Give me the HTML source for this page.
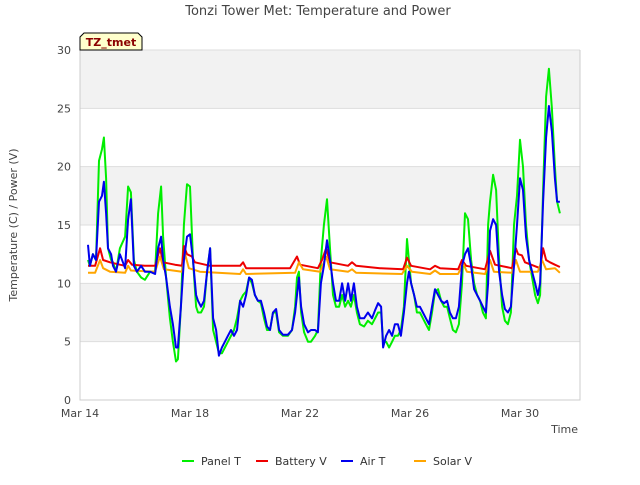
<!DOCTYPE html>
<html><head><meta charset="utf-8"><style>
body{margin:0;background:#fff;font-family:"Liberation Sans","DejaVu Sans",sans-serif}
svg text{font-family:"DejaVu Sans","Liberation Sans",sans-serif}
</style></head><body>
<svg id="c" width="640" height="480">
<text x="318" y="15" text-anchor="middle" font-size="13" fill="#444">Tonzi Tower Met: Temperature and Power</text>
<text transform="translate(17,225) rotate(-90)" text-anchor="middle" font-size="11" fill="#444">Temperature (C) / Power (V)</text>
<text x="578" y="433" text-anchor="end" font-size="11" fill="#444">Time</text>
<g id="plot"></g>
<g>
<path d="M80,50 L80,37 L84,33 L138,33 L142,37 L142,50 Z" fill="#ffffcc" stroke="#000"/>
<text x="111" y="46" text-anchor="middle" font-size="11" font-weight="bold" fill="#8b0000">TZ_tmet</text>
</g>
<g id="legend"></g>
</svg>
<script>
const tA=[0.29,0.36,0.47,0.58,0.69,0.80,0.87,0.95,1.02,1.13,1.20,1.31,1.45,1.64,1.75,1.85,1.96,2.07,2.22,2.36,2.55,2.73,2.84,2.95,3.02,3.13,3.27,3.38,3.49,3.56,3.67,3.78,3.89,4.00,4.11,4.22,4.29,4.40,4.51,4.62,4.73,4.84,4.95,5.05,5.16,5.27,5.38,5.49,5.60,5.71,5.82,5.93,6.04,6.15,6.25,6.36,6.47,6.58,6.69,6.80,6.91,7.02,7.13,7.24,7.38,7.56,7.71,7.82,7.89,7.96,8.04,8.15,8.29,8.40,8.55,8.65,8.76,8.87,8.98,9.09,9.20,9.31,9.42,9.53,9.64,9.75,9.85,9.96,10.07,10.18,10.33,10.47,10.62,10.73,10.84,10.95,11.02,11.13,11.24,11.35,11.45,11.56,11.67,11.78,11.89,11.96,12.04,12.15,12.25,12.36,12.47,12.58,12.69,12.80,12.91,13.02,13.13,13.24,13.35,13.45,13.56,13.67,13.78,13.89,14.00,14.11,14.22,14.33,14.44,14.55,14.65,14.76,14.84,14.91,15.02,15.13,15.24,15.35,15.45,15.56,15.67,15.78,15.89,16.00,16.11,16.22,16.33,16.44,16.55,16.65,16.73,16.84,16.95,17.05,17.16,17.27,17.35,17.45];
const airT=[13.3,11.5,12.5,12,17,17.5,18.7,16,13,12.5,11.5,11,12.5,11.3,15.5,17.2,11.5,11,11.5,11,11,10.8,13,14,12,10.5,8,6.5,4.5,4.5,8,12,14,14.2,12,9,8.5,8,8.5,11,13,7,6,3.8,4.5,5,5.5,6,5.5,6,8.5,8,9,10.5,10.3,9,8.5,8.5,7.5,6.3,6,7.5,7.8,6,5.6,5.6,6,7.5,9,10.5,8,6.5,5.8,6,6,5.8,10,11.5,13.7,12,10,8.5,8.5,10,8.5,10,8.5,10,8,7,7,7.5,7,7.7,8.3,8,4.5,5.5,6,5.5,6.5,6.5,5.5,7.5,10,11,10,9,8,8,7.5,7,6.5,8,9.5,9,8.5,8.3,8.5,7.5,7,7,8,11.5,12.5,13,11.5,9.5,9,8.5,8,7.5,10,14.5,15.5,15,11,9,7.8,7.5,8,11.5,15,19,18,14,12,11,10,9,10,17,22.5,25.2,23,19,17,17];
const panelT=[12,11.5,12.5,12,20.5,21.5,22.5,19,13,12,11.8,11,13,14,18.3,17.8,12,11,10.5,10.3,11,11,16,18.3,14,10.5,7,5,3.3,3.5,8,15,18.5,18.3,12,8,7.5,7.5,8,11,13,6,5,4,4,4.5,5,5.5,6,7,8.5,9,9.3,10.5,10,9,8.5,8.3,7,6,6,7.5,7.5,5.8,5.5,5.5,6,8,10.5,11,7.5,5.8,5,5,5.5,6,12,15,17.2,13,9,8,8,9,8,8.5,8,9,7.5,6.5,6.3,6.8,6.5,7,7.5,7.5,5,5,4.5,5,5.5,5.5,6,8,13.8,12,10,9,7.5,7.5,7,6.5,6,7.5,9.3,9.5,8.5,8,8,7,6,5.8,6.5,10,16,15.5,12,10,9,8.5,7.5,7,15,17,19.3,18,12,8,6.8,6.5,7.5,15,17.5,22.3,20,15,12,10.5,9,8.3,9,18,26,28.4,25,20,17,16];
const tB=[0.29,0.55,0.73,0.84,1.09,1.45,1.64,1.75,1.89,2.36,2.73,2.91,3.02,3.45,3.71,3.78,3.89,4.07,4.18,4.73,5.82,5.93,6.04,7.64,7.89,8.00,8.65,8.80,8.95,9.09,9.75,9.89,10.04,10.91,11.75,11.89,12.04,12.73,12.91,13.09,13.75,13.89,14.04,14.73,14.91,15.09,15.71,15.85,15.93,16.07,16.18,16.73,16.84,16.95,17.09,17.27,17.45];
const batteryV=[11.5,11.5,13,12,11.8,11.6,11.5,12,11.6,11.5,11.5,13,11.8,11.6,11.5,13.2,12.5,12.3,11.8,11.5,11.5,11.8,11.3,11.3,12.3,11.6,11.3,12,13,11.8,11.5,11.8,11.5,11.3,11.2,12.2,11.5,11.2,11.5,11.3,11.2,12,11.5,11.2,12.8,11.6,11.3,13,12.5,12.4,11.8,11.3,13,12,11.8,11.6,11.4];
const tS=[0.29,0.55,0.73,0.84,1.09,1.64,1.75,1.85,2.73,2.91,3.05,3.71,3.82,3.96,4.36,5.82,5.93,6.04,7.82,7.96,8.11,8.73,8.95,9.09,9.75,9.89,10.04,11.71,11.89,12.07,12.73,12.91,13.09,13.75,13.93,14.07,14.73,14.91,15.05,15.71,15.85,16.00,16.65,16.80,16.95,17.27,17.45];
const solarV=[10.9,10.9,12,11.3,11,10.9,11.5,11.1,11,12.3,11.2,11,12.5,11.3,11,10.8,11.2,10.8,10.9,11.8,11.2,11,12.3,11.2,11,11.2,10.9,10.8,11.5,11,10.8,11.1,10.8,10.8,11.7,11,10.8,12,11,10.9,12,11,11,12,11.2,11.3,10.9];
const yTicks=[0,5,10,15,20,25,30];
const xTickDays=[0,4,8,12,16];
const xTickLabels=["Mar 14","Mar 18","Mar 22","Mar 26","Mar 30"];
const legendNames=["Panel T","Battery V","Air T","Solar V"];
const legendColors=["#00ee00","#ee0000","#0000ee","#ffa500"];

const X0=80,X1=580,Y0=400,Y1=50;
const sx=d=>X0+d*27.5;
const sy=v=>Y0-(v/30)*(Y0-Y1);
const NS="http://www.w3.org/2000/svg";
const plot=document.getElementById('plot');
function mk(tag,at,parent){const e=document.createElementNS(NS,tag);for(const k in at)e.setAttribute(k,at[k]);(parent||plot).appendChild(e);return e;}
for(let i=0;i<yTicks.length-1;i++){
  const r=mk('rect',{x:X0,y:sy(yTicks[i+1]),width:X1-X0,height:sy(yTicks[i])-sy(yTicks[i+1]),fill:(i%2==1)?'#f2f2f2':'#ffffff'});
  
  
}
yTicks.forEach(v=>{
  const l=mk('line',{x1:X0,x2:X1,y1:sy(v),y2:sy(v),stroke:'#dddddd'});
  
  
  const t=mk('text',{x:X0-9,y:sy(v)+4,'text-anchor':'end','font-size':11,fill:'#444'});
  t.textContent=v;
  
  
});
const ax=mk('path',{d:`M${X0},${Y1}V${Y0}H${X1}V${Y1}`,fill:'none',stroke:'#ccc'});


xTickDays.forEach((d,i)=>{
  const t=mk('text',{x:sx(d),y:417,'text-anchor':'middle','font-size':11,fill:'#444'});
  t.textContent=xTickLabels[i];
  
  
});
function series(ts,vs,color,name){
  const n=Math.min(ts.length,vs.length);let d='';
  for(let i=0;i<n;i++)d+=(i?'L':'M')+sx(ts[i]).toFixed(1)+','+sy(vs[i]).toFixed(1);
  const p=mk('path',{d:d,fill:'none',stroke:color,'stroke-width':2,'stroke-linejoin':'round'});
  
  
}
series(tA,panelT,legendColors[0],'panel-t-line');
series(tB,batteryV,legendColors[1],'battery-v-line');
series(tS,solarV,legendColors[3],'solar-v-line');
series(tA,airT,legendColors[2],'air-t-line');
const lg=document.getElementById('legend');
const lx=[182,256,341,414];
legendNames.forEach((nm,i)=>{
  const l=mk('line',{x1:lx[i],x2:lx[i]+12,y1:461,y2:461,stroke:legendColors[i],'stroke-width':2},lg);
  
  
  const t=mk('text',{x:lx[i]+19,y:465,'font-size':11,fill:'#333'},lg);
  t.textContent=nm;
  
  
});
</script>
</body></html>
